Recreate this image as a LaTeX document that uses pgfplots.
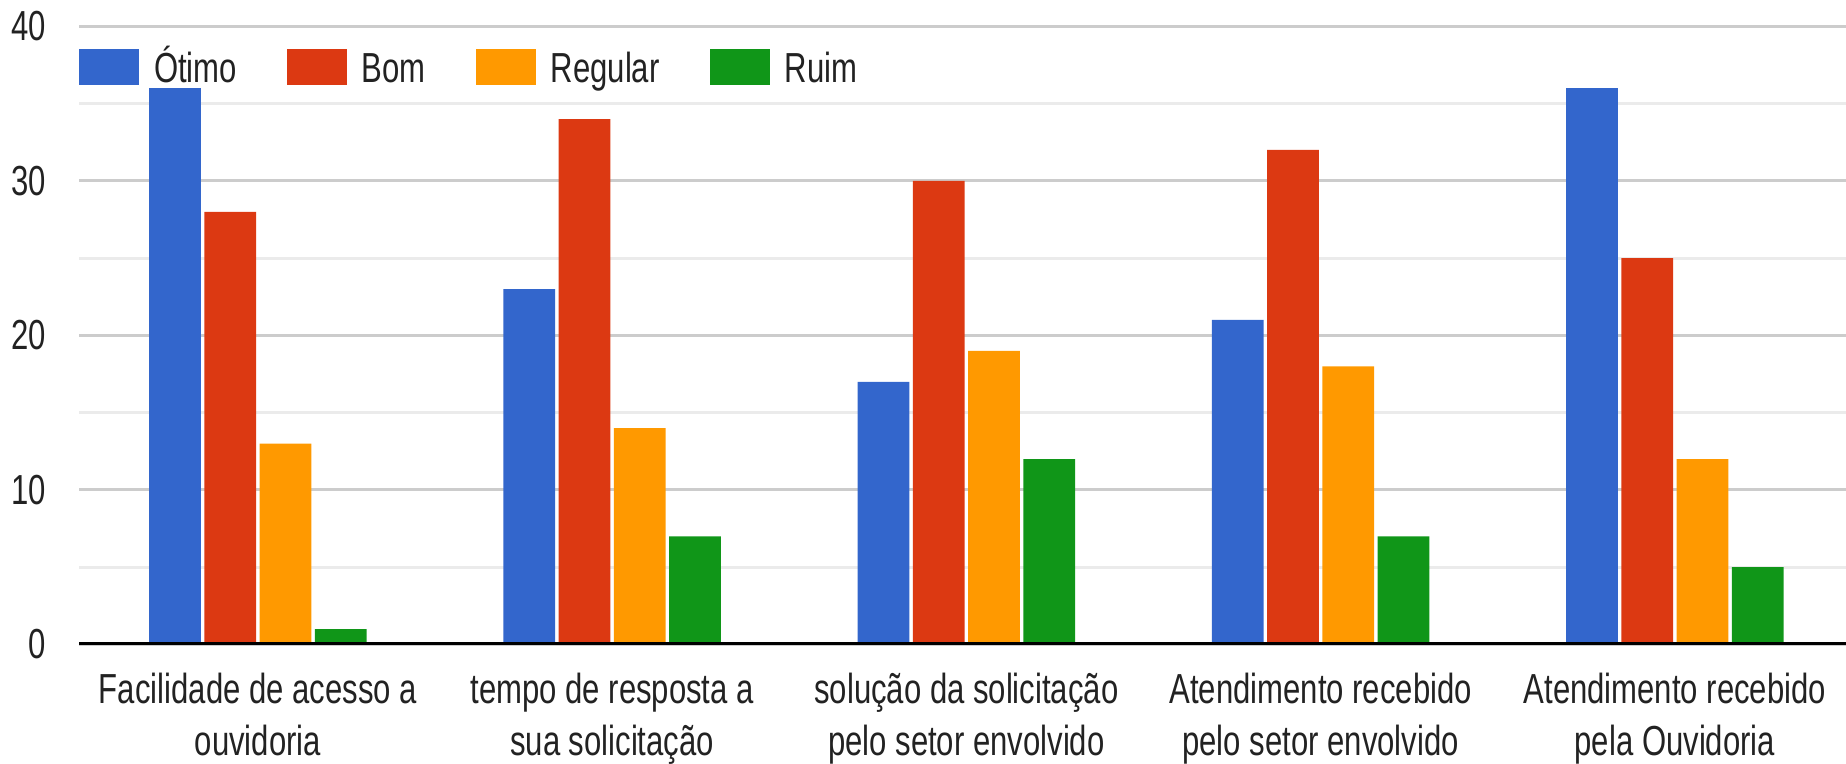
\documentclass[border=0pt]{standalone}
\usepackage{fontspec}
\setmainfont{Liberation Sans}[FakeStretch=0.74]
\usepackage{pgfplots}
\pgfplotsset{compat=1.18}

\definecolor{cOtimo}{HTML}{3366CC}
\definecolor{cBom}{HTML}{DC3912}
\definecolor{cRegular}{HTML}{FF9900}
\definecolor{cRuim}{HTML}{109618}
\definecolor{gridmajor}{HTML}{CCCCCC}
\definecolor{gridminor}{HTML}{EBEBEB}
\definecolor{baseline}{HTML}{333333}
\definecolor{txt}{HTML}{222222}

\begin{document}
\begin{tikzpicture}
\begin{axis}[
  at={(19.75pt,29.625pt)}, anchor=south west,
  scale only axis,
  width=441.75pt, height=154.55pt,
  xmin=-0.505, xmax=4.483,
  ymin=0, ymax=40,
  ybar, bar width=0.146,
  axis line style={draw=none},
  major tick length=0pt, minor tick length=0pt,
  xtick={0,1,2,3,4},
  xticklabels={
    {\rule{0pt}{9pt}Facilidade de acesso a\\ouvidoria},
    {\rule{0pt}{9pt}tempo de resposta a\\sua solicitação},
    {\rule{0pt}{9pt}solução da solicitação\\pelo setor envolvido},
    {\rule{0pt}{9pt}Atendimento recebido\\pelo setor envolvido},
    {\rule{0pt}{9pt}Atendimento recebido\\pela Ouvidoria}},
  xticklabel style={align=center, anchor=north, inner sep=0pt, yshift=-5.5pt,
    font=\fontsize{10.5}{13}\selectfont, text=txt},
  ytick={0,10,20,30,40},
  minor ytick={5,15,25,35},
  yticklabel style={anchor=east, inner sep=0pt, xshift=-8pt,
    font=\fontsize{10.5}{13}\selectfont, text=txt},
  /pgf/number format/assume math mode=true,
  ymajorgrids, yminorgrids,
  major grid style={draw=gridmajor, line width=0.75pt},
  minor grid style={draw=gridminor, line width=0.75pt},
  legend columns=4,
  legend cell align=left,
  legend style={at={(0,1)}, anchor=north west, yshift=-5.7pt,
    draw=none, fill=none, inner sep=0pt, outer sep=0pt,
    font=\fontsize{10.5}{13}\selectfont, text=txt,
    nodes={inner sep=0pt, text height=8pt, text depth=1pt},
    /tikz/every odd column/.append style={column sep=3.75pt},
    /tikz/every even column/.append style={column sep=12.5pt}},
  legend image code/.code={\fill[#1] (0pt,-4.25pt) rectangle (15pt,4.75pt);},
]
\addplot[fill=cOtimo, draw=none, bar shift=-0.234]
  coordinates {(0,36) (1,23) (2,17) (3,21) (4,36)};
\addplot[fill=cBom, draw=none, bar shift=-0.078]
  coordinates {(0,28) (1,34) (2,30) (3,32) (4,25)};
\addplot[fill=cRegular, draw=none, bar shift=0.078]
  coordinates {(0,13) (1,14) (2,19) (3,18) (4,12)};
\addplot[fill=cRuim, draw=none, bar shift=0.234]
  coordinates {(0,1) (1,7) (2,12) (3,7) (4,5)};
\legend{Ótimo, Bom, Regular, Ruim}
% baseline at zero, over the bars
\draw[baseline, line width=1.25pt] (rel axis cs:0,0) -- (rel axis cs:1,0);
\end{axis}
\pgfresetboundingbox
\path (0pt,0pt) rectangle (461.5pt,190.75pt);
\end{tikzpicture}
\end{document}
